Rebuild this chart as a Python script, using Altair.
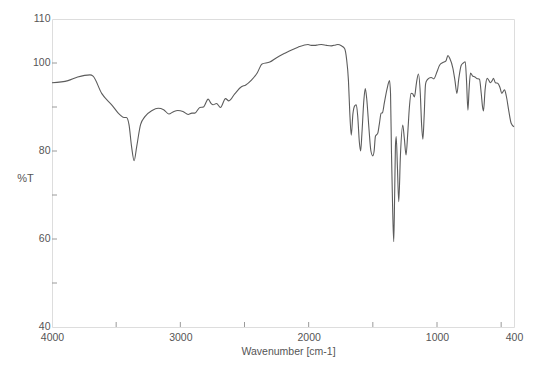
import altair as alt
import pandas as pd

wavenumber = [4000, 3875, 3800, 3704, 3680, 3613, 3535, 3470, 3440, 3420, 3400, 3380, 3360, 3340, 3310,
              3276, 3220, 3173, 3130, 3090, 3050, 3020, 2980, 2939, 2910, 2887, 2848, 2820, 2783, 2760,
              2745, 2718, 2687, 2648, 2622, 2576, 2524, 2490, 2446, 2400, 2363, 2303, 2250, 2187, 2083,
              2005, 1980, 1953, 1930, 1901, 1860, 1823, 1790, 1772, 1745, 1720, 1705, 1690, 1680, 1668,
              1655, 1640, 1629, 1618, 1605, 1595, 1585, 1570, 1559, 1548, 1530, 1515, 1500, 1490, 1480,
              1474, 1462, 1450, 1435, 1425, 1410, 1390, 1370, 1362, 1355, 1345, 1337, 1330, 1324, 1318,
              1308, 1298, 1285, 1267, 1255, 1241, 1228, 1215, 1202, 1190, 1176, 1160, 1145, 1130, 1120,
              1110, 1100, 1090, 1084, 1065, 1045, 1025, 1000, 980, 954, 930, 915, 900, 876, 860,
              845, 830, 811, 795, 780, 770, 759, 750, 739, 720, 708, 690, 669, 655, 645,
              638, 625, 609, 595, 584, 570, 560, 545, 527, 510, 495, 474, 460, 440, 422, 400]
transmittance = [95.5, 96.0, 96.8, 97.3, 97.0, 93.1, 90.5, 88.2, 87.6, 87.6, 86.0, 81.0, 77.8, 81.0, 86.0,
                 87.8, 89.2, 89.7, 89.4, 88.4, 89.0, 89.2, 89.0, 88.3, 88.6, 88.6, 89.9, 90.0, 91.8, 90.8,
                 90.5, 90.8, 89.9, 91.9, 91.4, 93.0, 94.6, 95.0, 96.1, 97.8, 99.8, 100.2, 101.2, 102.2, 103.6,
                 104.2, 104.0, 104.0, 104.1, 104.2, 104.0, 103.9, 104.1, 104.2, 103.9, 103.3, 101.0, 96.0, 89.0, 83.6,
                 88.5, 90.3, 90.5, 88.0, 82.0, 80.0, 84.0, 91.5, 94.2, 92.0, 85.0, 80.0, 78.9, 80.0, 83.3,
                 83.6, 84.0, 86.0, 88.6, 88.7, 91.0, 94.0, 96.0, 93.0, 80.0, 66.0, 59.4, 70.0, 81.0, 83.3,
                 76.0, 68.5, 79.0, 85.9, 83.0, 79.1, 84.0, 90.0, 93.1, 93.0, 92.3, 95.5, 97.5, 93.0, 86.0,
                 82.7, 88.0, 95.0, 95.8, 96.5, 96.7, 96.4, 98.0, 99.5, 100.1, 100.5, 101.7, 101.0, 98.8, 96.0,
                 93.1, 96.5, 99.5, 100.0, 100.3, 96.0, 89.3, 94.0, 97.7, 97.0, 96.9, 96.5, 96.3, 93.0, 90.0,
                 89.1, 94.0, 96.5, 96.0, 95.5, 96.0, 96.5, 95.5, 95.4, 94.5, 93.1, 93.9, 92.5, 89.0, 86.3, 85.5]

x_labels = [4000, 3000, 2000, 1000, 400]
x_minor = [3500, 2500, 1500, 500]
x_major_ticks = [3000, 2000, 1000]
y_labels = [40, 60, 80, 100, 110]
y_minor = [50, 70, 90]
y_major_ticks = [60, 80, 100]

df = pd.DataFrame({"wn": wavenumber, "T": transmittance})

FONT = "Liberation Sans"
GRAY = "#555555"
AXIS = "#9a9a9a"

xscale = alt.Scale(domain=[4000, 400], nice=False, zero=False)
yscale = alt.Scale(domain=[40, 110], nice=False, zero=False)

line = alt.Chart(df).mark_line(color="#5c5c5c", strokeWidth=1.1, interpolate="monotone").encode(
    x=alt.X("wn:Q", scale=xscale,
            axis=alt.Axis(values=x_labels, ticks=False, grid=False, domain=False,
                          title="Wavenumber [cm-1]", titleFont=FONT, titleFontSize=10.5,
                          titleFontWeight="normal", titleColor=GRAY, titleY=24, titleX=236,
                          titleBaseline="middle", labelFont=FONT, labelFontSize=10.5,
                          labelColor=GRAY, labelPadding=5, labelFlush=False, format="d")),
    y=alt.Y("T:Q", scale=yscale,
            axis=alt.Axis(values=y_labels, ticks=False, grid=False, domain=False,
                          title="%T", titleAngle=0, titleX=-27, titleY=159,
                          titleAlign="center", titleBaseline="middle", titleFont=FONT,
                          titleFontSize=11, titleFontWeight="normal", titleColor=GRAY,
                          labelFont=FONT, labelFontSize=10.5, labelColor=GRAY, labelPadding=2,
                          labelOffset=-1)),
)

xt = pd.DataFrame({"v": x_major_ticks + x_minor})
xticks = alt.Chart(xt).mark_rule(color=AXIS, strokeWidth=1).encode(
    x=alt.X("v:Q", scale=xscale), y=alt.value(308), y2=alt.value(303))

yt = pd.DataFrame({"v": y_major_ticks + y_minor})
yticks = alt.Chart(yt).mark_rule(color=AXIS, strokeWidth=1).encode(
    y=alt.Y("v:Q", scale=yscale), x=alt.value(0), x2=alt.value(5))

chart = alt.layer(line, xticks, yticks).properties(
    width=462, height=308,
    autosize=alt.AutoSizeParams(type="none"),
    padding={"left": 44, "top": 11, "right": 30, "bottom": 30},
).configure_view(stroke=AXIS, strokeWidth=1.5).configure(background="white")

chart.save("out.html", embed_options={"renderer": "svg", "actions": False})
